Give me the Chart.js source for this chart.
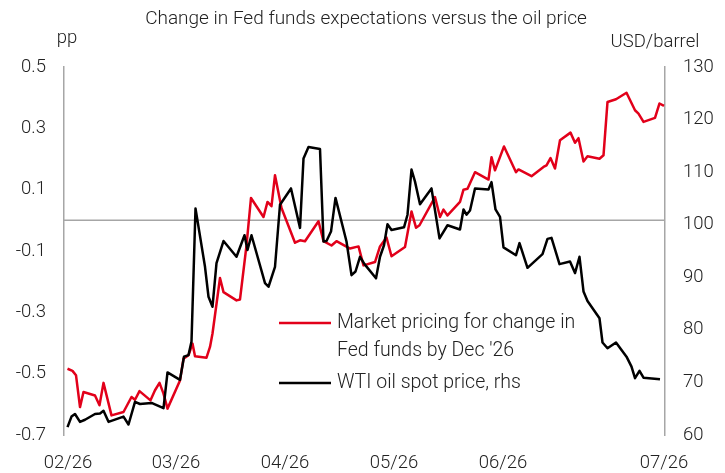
<!DOCTYPE html>
<html lang="en">
<head>
<meta charset="UTF-8" />
<title>Fed funds vs oil</title>
<script src="https://cdn.jsdelivr.net/npm/chart.js"></script>
<style>
  html, body { margin: 0; padding: 0; background: #fff; }
</style>
</head>
<body>
<canvas id="chart" width="725" height="473"></canvas>
<script>
const titleText = 'Change in Fed funds expectations versus the oil price';
const leftUnit = 'pp';
const rightUnit = 'USD/barrel';

// x = trading day counted from the start of February
const fedDays = [0.7, 1.7, 2.4, 3.2, 3.9, 6.2, 7.1, 7.9, 9.5, 11.9, 13.5, 14.2, 15.1, 17.3, 18.2, 19.1, 19.9, 20.7,
  23.2, 23.9, 24.9, 25.7, 26.2, 28.5, 29.2, 29.7, 31.2, 31.9, 34.5, 35.2, 36.5, 37.4, 39.9, 40.7, 41.5, 42.2, 43.5,
  46.2, 47.2, 48.2, 50.9, 51.9, 53.5, 54.5, 57.2, 58.9, 59.9, 62.2, 63.2, 64.5, 65.5, 68.2, 69.5, 70.4, 71.1, 74.2,
  75.2, 75.9, 76.7, 79.2, 79.9, 80.7, 82.2, 84.9, 85.5, 86.2, 88.0, 90.4, 90.9, 93.5, 95.9, 96.5, 97.3, 98.2, 99.2,
  101.3, 102.2, 102.9, 103.9, 104.7, 107.1, 107.9, 108.7, 110.4, 112.5, 114.2, 114.9, 115.9, 118.2, 119.1, 120.0];
const fedValues = [-0.484, -0.491, -0.505, -0.609, -0.560, -0.571, -0.603, -0.530, -0.636, -0.625, -0.576, -0.585,
  -0.557, -0.587, -0.554, -0.530, -0.565, -0.614, -0.522, -0.451, -0.440, -0.402, -0.443, -0.448, -0.413, -0.369,
  -0.188, -0.234, -0.261, -0.258, -0.082, 0.073, 0.011, 0.060, 0.046, 0.147, 0.040, -0.073, -0.065, -0.068, -0.003,
  -0.068, -0.082, -0.068, -0.092, -0.085, -0.147, -0.136, -0.085, -0.056, -0.117, -0.087, 0.029, -0.024, -0.016,
  0.076, 0.011, 0.035, 0.016, 0.060, 0.100, 0.103, 0.157, 0.133, 0.206, 0.163, 0.241, 0.157, 0.166, 0.144, 0.174,
  0.179, 0.203, 0.169, 0.261, 0.286, 0.253, 0.268, 0.192, 0.209, 0.201, 0.212, 0.386, 0.395, 0.416, 0.359, 0.348,
  0.321, 0.334, 0.381, 0.373];

const oilDays = [0.7, 1.5, 2.2, 3.2, 4.2, 6.2, 7.2, 7.9, 8.9, 11.9, 12.9, 14.2, 15.2, 17.5, 19.9, 20.7, 23.2, 24.0,
  24.9, 25.5, 26.3, 28.2, 28.9, 29.7, 30.5, 31.9, 34.5, 36.1, 36.7, 37.5, 40.2, 40.9, 42.2, 43.2, 45.4, 47.2, 47.9,
  48.9, 51.2, 51.9, 52.5, 53.4, 54.3, 56.5, 57.5, 58.3, 59.2, 60.1, 62.4, 63.2, 64.0, 64.7, 65.5, 68.0, 68.7, 69.5,
  70.2, 71.2, 73.5, 75.1, 76.7, 79.2, 79.9, 80.5, 81.2, 82.2, 84.9, 85.5, 86.3, 87.2, 87.9, 90.4, 91.1, 92.7, 95.7,
  96.7, 97.5, 99.1, 101.2, 102.2, 103.1, 103.9, 104.7, 107.1, 107.7, 108.7, 110.4, 112.5, 113.5, 114.2, 115.1,
  115.9, 119.2];
const oilValues = [61.5, 63.5, 64.0, 62.5, 62.9, 64.0, 64.1, 64.6, 62.5, 63.5, 62.0, 66.3, 65.9, 66.1, 65.1, 71.9,
  70.5, 74.9, 75.2, 77.8, 103.1, 92.0, 86.3, 84.4, 92.7, 96.9, 93.9, 98.0, 95.2, 98.0, 88.9, 88.2, 92.0, 103.8,
  106.9, 99.4, 112.6, 114.8, 114.4, 96.8, 96.9, 98.7, 105.1, 96.8, 90.4, 91.1, 93.9, 92.5, 89.8, 93.9, 96.1, 100.1,
  99.0, 99.5, 101.9, 110.5, 108.2, 103.9, 106.9, 97.4, 99.9, 99.1, 102.9, 101.9, 102.7, 106.9, 106.7, 108.1, 102.9,
  101.5, 95.7, 94.2, 96.5, 91.8, 94.4, 97.3, 97.5, 92.5, 93.0, 90.8, 93.9, 87.3, 85.5, 82.2, 77.6, 76.5, 77.6, 74.9,
  73.0, 70.8, 72.2, 70.9, 70.6];

const xTickDays = [0.8, 22.4, 44.2, 66, 87.8, 120];
const xTickLabels = ['02/26', '03/26', '04/26', '05/26', '06/26', '07/26'];
const fedTicks = [-0.7, -0.5, -0.3, -0.1, 0.1, 0.3, 0.5];
const oilTicks = [60, 70, 80, 90, 100, 110, 120, 130];

const fedLabel = ['Market pricing for change in', "Fed funds by Dec '26"];
const oilLabel = ['WTI oil spot price, rhs'];

const fontFamily = "Roboto, 'Liberation Sans', sans-serif";
const textColor = '#222';
const red = '#e2001a';
const axisGrey = '#a6a6a6';

const tickFont = { family: fontFamily, size: 18.5, weight: '300' };

const decor = {
    id: 'decor',
    beforeDatasetsDraw(chart) {
        const { ctx, chartArea, scales } = chart;
        const y0 = scales.y.getPixelForValue(0);
        ctx.save();
        ctx.strokeStyle = axisGrey;
        ctx.lineWidth = 1.5;
        ctx.beginPath();
        ctx.moveTo(chartArea.left, y0);
        ctx.lineTo(chartArea.right, y0);
        ctx.stroke();
        ctx.restore();
    },
    afterDraw(chart) {
        const ctx = chart.ctx;
        ctx.save();
        ctx.fillStyle = textColor;
        ctx.textBaseline = 'middle';
        ctx.textAlign = 'center';
        ctx.font = `300 19px ${fontFamily}`;
        ctx.fillText(titleText, 366, 19);
        ctx.font = `300 18.5px ${fontFamily}`;
        ctx.fillText(leftUnit, 67, 38);
        ctx.fillText(rightUnit, 655, 42);

        // legend
        ctx.textAlign = 'left';
        ctx.font = `300 19.5px ${fontFamily}`;
        const items = [
            { color: red, lines: fedLabel, y: 323 },
            { color: '#000', lines: oilLabel, y: 383 }
        ];
        items.forEach(it => {
            ctx.strokeStyle = it.color;
            ctx.lineWidth = 2.5;
            ctx.beginPath();
            ctx.moveTo(279, it.y);
            ctx.lineTo(331, it.y);
            ctx.stroke();
            it.lines.forEach((t, i) => ctx.fillText(t, 337, it.y + i * 28));
        });
        ctx.restore();
    }
};

new Chart(document.getElementById('chart'), {
    type: 'line',
    data: {
        datasets: [{
            label: fedLabel.join(' '),
            data: fedDays.map((d, i) => ({ x: d, y: fedValues[i] })),
            yAxisID: 'y',
            borderColor: red,
            borderWidth: 2.5,
            order: 2
        }, {
            label: oilLabel[0],
            data: oilDays.map((d, i) => ({ x: d, y: oilValues[i] })),
            yAxisID: 'y1',
            borderColor: '#000',
            borderWidth: 2.5,
            order: 1
        }]
    },
    options: {
        responsive: false,
        animation: false,
        devicePixelRatio: 1,
        layout: { padding: { top: 67, left: 0, right: 0, bottom: 0 } },
        elements: {
            point: { radius: 0 },
            line: { tension: 0, borderJoinStyle: 'round', fill: false }
        },
        plugins: {
            legend: { display: false },
            title: { display: false },
            tooltip: { enabled: false }
        },
        scales: {
            x: {
                type: 'linear',
                min: 0,
                max: 120.2,
                grid: { display: false, drawTicks: false },
                border: { display: false },
                afterBuildTicks: s => { s.ticks = xTickDays.map(v => ({ value: v })); },
                afterFit: s => { s.height = 38; },
                ticks: {
                    autoSkip: false,
                    maxRotation: 0,
                    padding: 17,
                    color: textColor,
                    font: tickFont,
                    callback: (v, i) => xTickLabels[i]
                }
            },
            y: {
                position: 'left',
                min: -0.7,
                max: 0.5,
                grid: { display: false, drawTicks: false },
                border: { display: true, color: axisGrey, width: 1.5 },
                afterBuildTicks: s => { s.ticks = fedTicks.map(v => ({ value: v })); },
                afterFit: s => { s.width = 64; },
                ticks: {
                    padding: 18,
                    color: textColor,
                    font: tickFont,
                    callback: v => v.toFixed(1)
                }
            },
            y1: {
                position: 'right',
                min: 60,
                max: 130,
                grid: { display: false, drawTicks: false },
                border: { display: true, color: axisGrey, width: 1.5 },
                afterBuildTicks: s => { s.ticks = oilTicks.map(v => ({ value: v })); },
                afterFit: s => { s.width = 60; },
                ticks: {
                    padding: 18,
                    color: textColor,
                    font: tickFont,
                    callback: v => String(v)
                }
            }
        }
    },
    plugins: [decor]
});
</script>
</body>
</html>
